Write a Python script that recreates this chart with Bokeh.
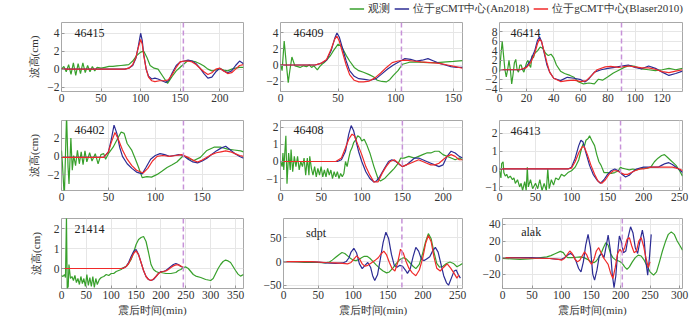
from bokeh.plotting import figure
from bokeh.models import Range1d, Span, Label, Legend, LegendItem
from bokeh.layouts import row, column
from bokeh.embed import file_html
from bokeh.resources import INLINE

# ---------------- data ----------------
stations = ["46415", "46409", "46414", "46402", "46408", "46413", "21414", "sdpt", "alak"]
legend_labels = ["观测", "位于gCMT中心(An2018)", "位于gCMT中心(Blaser2010)"]
x_title = "震后时间(min)"
y_title = "波高(cm)"

x_ticks = [[0, 50, 100, 150, 200], [0, 50, 100, 150], [0, 20, 40, 60, 80, 100, 120],
           [0, 50, 100, 150], [0, 50, 100, 150, 200], [0, 50, 100, 150, 200, 250],
           [0, 50, 100, 150, 200, 250, 300, 350], [0, 50, 100, 150, 200, 250],
           [0, 50, 100, 150, 200, 250, 300]]
y_ticks = [[-2, 0, 2, 4], [-2, 0, 2, 4], [-4, -2, 0, 2, 4, 6, 8], [-2, 0, 2], [-1, 0, 1, 2],
           [-1, 0, 1, 2], [0, 1, 2], [-50, 0, 50], [-20, 0, 20, 40]]
arrival = [154, 105, 90, 130, 150, 168, 245, 170, 203]

# observed (green)
obs_46415 = [(0,0),(3,0.3),(6,-0.3),(9,0.5),(12,-0.6),(15,0.7),(18,-0.7),(21,0.6),(24,-0.5),(27,0.7),
             (30,-0.4),(33,0.4),(36,-0.3),(39,0.3),(42,-0.2),(45,0.2),(50,0.1),(55,0.2),(60,0.3),(65,0.3),
             (70,0.35),(75,0.4),(80,0.45),(85,0.5),(90,0.9),(95,1.5),(100,1.9),(104,2.0),(108,1.3),(112,0.4),
             (117,0.1),(122,0.0),(128,-0.8),(134,-1.6),(140,-0.8),(145,-0.2),(150,0.2),(155,0.6),(160,0.95),
             (165,0.9),(170,0.8),(175,0.6),(180,0.35),(185,0.0),(190,-0.2),(195,-0.1),(200,0.05),(205,-0.1),
             (210,-0.2),(215,0.0),(220,0.1),(225,0.2),(230,0.2)]
obs_46409 = [(0,0.1),(1.4,-0.7),(3.2,3.0),(5,0.2),(6.7,-2.2),(8.3,-0.5),(9.9,1.0),(12.5,-0.1),(15,-0.2),
             (17,-0.3),(20,-0.1),(22.6,-0.2),(25,0.0),(27,-0.3),(29,-0.1),(32,-0.6),(34,-0.2),(36,0.1),
             (38,0.3),(40,0.6),(43,1.1),(46,1.8),(48,2.2),(50,2.6),(53,2.3),(57,1.2),(60,0.5),(64,-0.3),
             (68,-0.7),(72,-0.9),(77,-1.2),(81,-1.5),(84,-1.9),(88,-2.05),(92,-2.1),(95,-1.8),(98,-1.3),
             (102,-0.7),(106,0.1),(112,0.35),(120,0.35),(128,0.3),(136,0.3),(144,0.4),(150,0.45),(158,0.55)]
obs_46414 = [(0,-0.5),(1,3),(2,6),(3,3),(4,0),(5,-1.5),(6,0),(7,2),(8,0),(9,-3),(10,-1),(11,1.5),(12,2.2),
             (13,0),(14,-0.5),(15,1),(16,1),(17,0),(18,-0.5),(19,0.5),(20,1.5),(21,2),(22,1),(23,0.5),(24,3),
             (25,2.5),(26,3.5),(28,4),(30,4.8),(32,4.5),(34,3.5),(36,3),(38,3.3),(40,2.5),(42,1.0),(45,-0.3),
             (48,-0.8),(52,-1.2),(55,-1.6),(58,-2.5),(62,-3.0),(66,-2.8),(70,-3.0),(73,-2.0),(76,-2.2),
             (80,-1.5),(84,-0.7),(88,-0.1),(92,0.5),(96,0.9),(100,0.7),(105,0.2),(110,0.0),(115,-0.2),
             (120,0.0),(125,0.3),(130,0.0),(135,0.3)]
obs_46402 = [(0,0.65),(1,-0.8),(3,-4.5),(5.4,4.5),(7,-1.2),(8,-3.0),(10,2.0),(11.5,-1.5),(13,0.1),(15,-1.0),
             (17,0.65),(19,-0.8),(21,0.5),(23,-0.9),(25,0.6),(27,-0.6),(30,0.4),(32.5,-0.5),(36,0.3),(39,-0.8),
             (42,0.2),(45,0.3),(47,-0.3),(50,0.3),(55,1.0),(60.7,2.1),(63.6,2.65),(66.8,2.5),(70,1.4),(75,0.65),
             (78.6,-0.25),(82,-1.15),(86,-2.3),(91,-2.2),(96,-2.25),(102,-1.95),(107,-1.6),(112.5,-1.2),
             (118,-0.9),(123,-0.6),(130,0.1),(136,-0.25),(141,-0.45),(148,-0.1),(155,0.65),(162.5,1.0),
             (170,1.0),(177,0.8),(184,0.7),(191,0.6),(194,0.5)]
obs_46408 = [(0,0),(2,-0.3),(3,0.5),(4,-0.5),(6.6,1.5),(8,-1.3),(10,0.5),(12,-0.5),(13,0.7),(15,-0.6),(17,0.3),
             (19,-0.3),(21,0.3),(23,-0.5),(25,0.0),(27,-0.3),(29,0.2),(31,-0.8),(33,0.2),(35,-0.8),(36,0.3),
             (38,-0.4),(40,-0.8),(42,-0.3),(44,-0.9),(46,-0.4),(48,-0.8),(50,-0.3),(52,-0.9),(54,-0.5),
             (56,-0.9),(58,-0.4),(60,-0.8),(62,-0.5),(64,-1.0),(66,-0.6),(68,-0.9),(70,-0.6),(72,-1.0),
             (74,-0.7),(76,-0.9),(78,-0.7),(80,0.0),(82,-0.3),(84,0.2),(86,0.6),(88,0.8),(90,1.1),(93,1.3),
             (95,1.5),(98,1.4),(100,1.2),(103,1.3),(106,1.0),(110,0.5),(115,-0.3),(120,-1.0),(123,-1.15),
             (128,-1.0),(132,-0.8),(136,-0.6),(140,-0.4),(145,-0.1),(148,0.2),(152,0.2),(158,0.3),(165,0.2),
             (170,0.3),(175,0.4),(180,0.5),(185,0.5),(190,0.6),(195,0.6),(200,0.4),(205,0.3),(210,0.2),
             (215,0.1),(220,0.2),(224,0.1)]
obs_46413 = [(0,-0.1),(2,-0.5),(3,0.3),(5,0.4),(6,-0.2),(8,-0.4),(10,-0.3),(12,-0.5),(15,-0.4),(18,-0.6),
             (20,-0.5),(22,-0.8),(25,-0.6),(28,-1.0),(30,-0.8),(32,-1.2),(35,-0.7),(37,-1.2),(38.6,0.1),
             (40,-1.0),(43,-0.6),(46,-1.1),(50,-0.8),(53,-1.1),(56,-0.6),(59,-1.2),(62,-0.8),(65,-1.2),
             (67,0.0),(69,-1.1),(72,-0.6),(75,-0.9),(78,-0.5),(82,-0.6),(86,-0.3),(90,-0.4),(95,-0.2),
             (100,-0.1),(105,0.1),(110,0.5),(113,1.0),(116,1.4),(118,1.3),(120,1.6),(123,1.7),(125,1.85),
             (128,1.6),(132,1.3),(135,0.8),(138,0.4),(141,0.2),(145,-0.2),(150,-0.2),(155,-0.25),(160,-0.2),
             (165,-0.1),(168,0.1),(170,0.05),(175,0.0),(180,-0.05),(185,0.0),(190,-0.05),(195,0.0),(200,0.05),
             (205,0.05),(210,0.1),(215,0.4),(220,0.6),(225,0.75),(229,0.8),(233,0.65),(237,0.5),(241,0.35),
             (245,0.2),(250,-0.1),(254,-0.4)]
obs_21414 = [(0,-0.35),(3,-0.4),(6,-0.3),(8,-0.45),(10,2.6),(11.5,-1.0),(13.5,-0.9),(15,0.2),(18,-0.5),
             (21,-0.4),(24,-0.6),(27,-0.35),(30,-0.7),(33,-0.5),(36,-0.8),(39,-0.4),(42,-0.75),(45,-0.5),
             (48,-0.9),(51,-0.3),(54,-0.85),(57,-0.45),(60,-0.9),(63,-0.4),(66,-0.95),(69,-0.5),(72,-0.8),
             (76,-0.55),(80,-0.45),(85,-0.4),(90,-0.3),(95,-0.35),(100,-0.25),(105,-0.25),(110,-0.15),
             (115,-0.1),(120,-0.05),(125,0.05),(130,0.1),(135,0.25),(140,0.45),(145,0.8),(150,1.2),(155,1.45),
             (160,1.55),(165,1.6),(170,1.35),(175,0.8),(180,0.2),(185,-0.05),(190,-0.15),(195,-0.2),(200,-0.2),
             (210,-0.25),(220,-0.25),(230,-0.2),(235,-0.1),(240,-0.05),(245,0.05),(250,0.08),(255,0.0),
             (260,-0.15),(265,-0.3),(270,-0.38),(280,-0.45),(290,-0.55),(300,-0.6),(305,-0.5),(310,-0.25),
             (315,0.0),(320,0.2),(325,0.35),(330,0.42),(335,0.38),(340,0.3),(345,0.1),(350,-0.1),(355,-0.28),
             (360,-0.38),(366,-0.3)]
obs_sdpt = [(0,0),(10,0),(20,-1),(30,-2),(40,-2),(50,-2),(60,-3),(66,-1),(70,3),(75,9),(80,15),(84,19),
            (88,17),(92,12),(96,7),(100,3),(104,2),(108,4),(112,8),(116,11),(120,11),(124,7),(128,1),(133,-7),
            (138,-14),(143,-20),(148,-24),(152,-22),(157,-14),(162,-4),(167,4),(172,8),(176,6),(181,-2),
            (186,-10),(190,-15),(195,-6),(200,18),(204,42),(208,59),(212,48),(216,20),(220,-4),(224,-12),
            (229,-10),(234,-4),(239,-1),(244,-4),(249,-11),(253,-8),(257,-4)]
obs_alak = [(0,-1),(15,-1.5),(30,-2),(45,-1.5),(55,-1),(65,0),(75,1),(82,2.5),(90,5),(98,7.5),(103,6),
            (107,2),(111,0),(118,0),(125,0.5),(132,1),(138,0),(144,-2),(150,-5),(155,-6),(159,-4),(163,0),
            (167,5),(171,12),(175,18),(179,15),(183,5),(187,0),(192,-3),(197,-4),(202,-6),(207,-11),(211,-14),
            (215,-11),(220,-5),(225,0),(230,3),(235,2),(240,-3),(245,-10),(250,-17),(256,-21),(261,-17),
            (266,-5),(271,8),(276,19),(281,28),(286,31),(291,28),(296,20),(301,14),(305,9)]

# model An2018 (blue)
an_46415 = [(0,0),(80,0),(85,0.1),(90,0.4),(94,1.2),(97,2.5),(100,4.0),(102,3.2),(104,1.6),(107,0.0),
            (110,-0.8),(114,-1.1),(118,-1.0),(122,-1.1),(127,-1.3),(132,-1.5),(136,-1.2),(140,-0.4),
            (145,0.4),(150,0.8),(155,0.9),(160,1.0),(165,0.9),(170,0.6),(175,0.1),(180,-0.5),(185,-1.0),
            (190,-0.9),(195,-0.3),(200,0.1),(205,-0.2),(210,-0.4),(215,-0.2),(220,0.4),(225,0.9),(230,0.6)]
an_46409 = [(0,0),(30,0),(35,0.2),(40,0.6),(44,1.8),(47,3.3),(49,4.0),(51,3.5),(54,2.0),(57,0.5),(60,-0.7),
            (64,-1.4),(68,-1.7),(73,-1.8),(78,-1.9),(83,-1.7),(88,-1.1),(93,-0.5),(98,0.0),(103,0.4),
            (108,0.8),(113,0.7),(118,0.5),(123,0.6),(128,0.8),(133,0.5),(138,0.2),(143,0.0),(148,-0.2),
            (153,-0.3),(158,-0.3)]
an_46414 = [(0,0),(15,0),(18,0.2),(20,0.7),(23,2),(26,4),(28,6.2),(29.5,7),(31,6),(33,3.5),(35,1),(37,-0.5),
            (40,-1.8),(45,-2.3),(50,-1.6),(55,-1.8),(60,-2.1),(63,-2.6),(66,-1.9),(70,-0.5),(75,0),(80,0.3),
            (85,0.5),(90,0.8),(95,1.0),(100,0.5),(105,0.2),(110,0.8),(115,0.3),(120,-0.5),(125,-1.2),
            (130,-0.8),(135,-0.3)]
an_46402 = [(0,-0.1),(45,-0.1),(50,0.5),(53,1.8),(56,3.4),(59,2.5),(62,1.0),(65,0),(70,-0.8),(75,-1.3),
            (80,-1.7),(86,-1.9),(90,-1.2),(95,-0.3),(100,0.1),(105,0.3),(110,0.2),(115,0.0),(120,0.1),
            (125,0.2),(130,0.1),(135,-0.3),(140,-0.6),(145,-0.7),(150,-0.5),(155,-0.2),(160,0.2),(165,0.6),
            (170,0.9),(175,1.1),(180,0.7),(185,0.3),(190,0.0),(194,-0.2)]
an_46408 = [(0,0),(70,0),(75,0.1),(80,0.6),(84,1.6),(87,2.1),(90,1.8),(93,1.2),(96,0.6),(100,0.0),(105,-0.6),
            (110,-1.0),(115,-1.2),(118,-1.15),(122,-0.9),(128,-0.4),(133,0.0),(137,0.1),(142,0.0),(147,-0.2),
            (150,-0.3),(155,-0.2),(160,0.0),(165,0.2),(170,0.2),(175,0.1),(180,0.0),(185,-0.1),(190,-0.2),
            (195,-0.3),(200,-0.2),(205,0.3),(210,0.6),(215,0.5),(220,0.3),(224,0.2)]
an_46413 = [(0,0),(95,0),(100,0.1),(105,0.6),(110,1.3),(113,1.6),(116,1.5),(120,0.9),(125,0.2),(130,-0.3),
            (135,-0.6),(140,-0.8),(145,-0.6),(150,-0.3),(155,-0.1),(160,0.0),(165,-0.1),(170,-0.3),
            (175,-0.45),(180,-0.35),(185,-0.15),(190,0.0),(195,0.05),(200,0.1),(210,0.1),(220,0.1),(225,0.2),
            (230,0.3),(235,0.35),(240,0.25),(245,0.1),(250,-0.05),(254,-0.2)]
an_21414 = [(0,0),(120,0),(125,0.02),(130,0.1),(135,0.3),(140,0.6),(145,0.85),(150,0.95),(155,0.7),(160,0.3),
            (165,-0.1),(170,-0.4),(175,-0.55),(180,-0.6),(185,-0.55),(190,-0.4),(195,-0.25),(200,-0.15),
            (205,-0.15),(210,-0.1),(215,0.0),(220,0.1),(225,0.2),(230,0.25),(235,0.2),(240,0.1),(245,0.05)]
an_sdpt = [(0,0),(30,0),(50,-1),(60,-3),(75,-4),(85,-3),(90,0),(94,8),(97,20),(101,28),(105,18),(109,-5),
           (113,-15),(117,-8),(121,-2),(125,-12),(128,-30),(131,-40),(135,-28),(139,5),(143,40),(147,62),
           (151,48),(155,15),(159,-8),(163,-12),(167,-8),(171,-10),(175,-18),(178,-25),(182,-15),(186,10),
           (190,30),(194,22),(198,5),(202,2),(206,6),(210,10),(214,22),(218,30),(222,20),(226,-5),(230,-30),
           (234,-45),(237,-50),(241,-35),(245,-20),(248,-18),(251,-28),(254,-35)]
an_alak = [(0,0),(50,0),(80,-1),(95,-2),(100,-2),(105,0),(110,3),(115,5),(120,3),(125,-5),(129,-13),
           (133,-17),(137,-5),(141,15),(145,28),(149,12),(153,-20),(156,-27),(160,-15),(164,2),(168,5),
           (172,0),(176,15),(179,27),(183,8),(186,-20),(189,-36),(192,-22),(195,5),(198,26),(201,20),(205,6),
           (209,8),(213,25),(217,37),(221,30),(225,12),(229,5),(233,20),(237,33),(240,22),(243,-5),(246,-21),
           (249,0),(252,28)]

# model Blaser2010 (red)
bl_46415 = [(0,0),(80,0),(85,0.1),(90,0.5),(94,1.3),(97,2.4),(100,3.3),(102,2.8),(104,1.5),(107,0.0),
            (110,-0.9),(114,-1.3),(118,-1.4),(124,-1.3),(130,-1.3),(135,-1.2),(140,-0.6),(145,0.2),(150,0.8),
            (155,0.9),(160,0.9),(165,0.8),(170,0.5),(175,0.1),(180,-0.3),(185,-0.6),(190,-0.4),(195,0.0),
            (200,0.1),(205,-0.2),(210,-0.5),(215,-0.4),(220,0.0),(225,0.4),(230,0.5)]
bl_46409 = [(0,0),(30,0),(35,0.2),(40,0.7),(44,2.0),(47,3.2),(49,3.6),(51,3.0),(54,1.5),(57,0.0),(60,-1.2),
            (64,-1.9),(68,-2.1),(72,-2.1),(77,-2.0),(82,-1.6),(87,-1.0),(92,-0.3),(97,0.3),(102,0.5),
            (108,0.6),(115,0.5),(122,0.4),(130,0.3),(138,0.2),(145,0.0),(152,-0.2),(158,-0.4)]
bl_46414 = [(0,0),(15,0),(20,0.5),(23,1.5),(26,3.5),(28,5.5),(29.5,6.5),(31,6),(33,3.8),(35,1.5),(37,-0.5),
            (40,-1.8),(45,-2.5),(50,-2.3),(55,-2.2),(60,-2.5),(64,-2.3),(68,-1.2),(72,0),(78,0.6),(82,0.7),
            (88,0.5),(95,0.8),(100,0.6),(105,0.4),(110,0.4),(115,0.1),(120,-0.4),(125,-0.6),(130,-0.3),(135,0)]
bl_46402 = [(0,-0.1),(45,-0.1),(50,0.5),(53,1.5),(57,2.6),(60,2.0),(65,0.7),(70,-0.3),(75,-1.0),(80,-1.5),
            (87,-1.8),(92,-1.3),(97,-0.5),(102,0.0),(108,0.1),(115,0.0),(122,0.1),(128,0.2),(135,-0.1),
            (140,-0.4),(145,-0.6),(150,-0.4),(155,-0.1),(160,0.2),(165,0.4),(170,0.5),(175,0.6),(180,0.5),
            (185,0.3),(190,0.1),(194,0.0)]
bl_46408 = [(0,0),(68,0),(75,0.2),(80,0.8),(84,1.3),(88,1.6),(91,1.5),(95,1.0),(100,0.4),(105,-0.3),
            (110,-0.8),(115,-1.2),(120,-1.2),(125,-0.7),(130,-0.3),(135,0.0),(140,0.1),(145,-0.1),(150,-0.3),
            (155,-0.2),(160,-0.1),(165,0.0),(170,0.1),(175,0.0),(180,-0.1),(185,-0.2),(190,-0.2),(195,-0.1),
            (200,0.1),(205,0.3),(210,0.4),(215,0.3),(220,0.1),(224,0.1)]
bl_46413 = [(0,0),(95,0),(100,0.05),(105,0.4),(110,0.9),(115,1.25),(118,1.2),(122,0.8),(127,0.2),(132,-0.3),
            (137,-0.7),(142,-0.8),(147,-0.6),(152,-0.3),(158,-0.1),(163,-0.1),(168,-0.2),(173,-0.3),
            (178,-0.3),(183,-0.2),(188,-0.1),(195,0.0),(200,0.0),(210,0.1),(220,0.1),(230,0.1),(240,0.1),
            (250,0.0),(254,-0.1)]
bl_21414 = [(0,0),(120,0),(125,0.02),(130,0.1),(135,0.25),(140,0.5),(145,0.75),(150,0.88),(155,0.68),
            (160,0.3),(165,-0.1),(170,-0.4),(175,-0.55),(180,-0.6),(185,-0.52),(190,-0.4),(195,-0.25),
            (200,-0.17),(205,-0.15),(210,-0.12),(215,-0.05),(220,0.05),(225,0.13),(230,0.18),(235,0.18),
            (240,0.12),(245,0.05)]
bl_sdpt = [(0,0),(40,0),(60,-2),(75,-3),(85,-4),(92,-5),(97,-2),(101,5),(105,12),(109,6),(113,-5),(117,-10),
           (121,-8),(126,-3),(131,2),(136,8),(140,16),(144,22),(148,14),(152,-2),(156,-15),(160,-20),(164,-2),
           (168,26),(172,18),(176,0),(180,-14),(185,-24),(190,-30),(195,-18),(200,8),(204,38),(208,55),
           (212,42),(216,10),(220,-14),(225,-20),(230,-12),(235,-5),(240,-14),(245,-25),(249,-35),(252,-28)]
bl_alak = [(0,0),(80,-1),(95,-2),(100,-3),(105,-1),(110,4),(114,8),(118,5),(122,-1),(127,-5),(131,-3),
           (135,2),(139,7),(143,3),(147,-4),(151,-8),(155,-2),(159,8),(163,12),(167,6),(171,0),(175,-4),
           (179,-8),(183,-18),(187,-25),(191,-12),(195,5),(199,10),(203,6),(207,12),(211,22),(215,24),
           (219,14),(223,6),(227,8),(231,20),(235,24),(239,14),(243,0),(247,-12),(250,-5)]

observed = [obs_46415, obs_46409, obs_46414, obs_46402, obs_46408, obs_46413, obs_21414, obs_sdpt, obs_alak]
model_an = [an_46415, an_46409, an_46414, an_46402, an_46408, an_46413, an_21414, an_sdpt, an_alak]
model_bl = [bl_46415, bl_46409, bl_46414, bl_46402, bl_46408, bl_46413, bl_21414, bl_sdpt, bl_alak]

# ---------------- layout / style ----------------
x_end = [230, 158, 135, 194, 224, 254, 366, 257, 305]
y_lims = [(-2.5, 5.2), (-3.3, 5.3), (-4.6, 10), (-3.7, 3.9), (-1.7, 2.4), (-1.2, 2.7),
          (-1.0, 2.5), (-57, 91), (-37, 47)]
label_dx = [13, 13, 11, 13, 13, 11, 13, 23, 19]
label_dy = [10, 10, 10, 9, 9, 10, 10, 14, 13]

GREEN = "#38a02c"
BLUE = "#2c2c94"
RED = "#f02a2a"
DASH = "#c792d8"
FONT = "Liberation Serif"
TXT = "#333333"

col_w = [260, 219, 221]
col_b = [(61, 17), (20, 17), (20, 18)]
row_h = [91, 99, 113]
row_b = [(6, 16), (13, 16), (12, 31)]


def fmt(t):
    return ("\u2212" + str(abs(t))) if t < 0 else str(t)


def xs_of(data):
    return [d[0] for d in data]


def ys_of(data):
    return [d[1] for d in data]


figs = []
for i in range(9):
    r, c = divmod(i, 3)
    fw = col_w[c] - col_b[c][0] - col_b[c][1]
    fh = row_h[r] - row_b[r][0] - row_b[r][1]
    y0, y1 = y_lims[i]
    p = figure(width=col_w[c], height=row_h[r], x_range=Range1d(0, x_end[i]), y_range=Range1d(y0, y1),
               output_backend="svg", toolbar_location=None,
               min_border_left=col_b[c][0], min_border_right=col_b[c][1],
               min_border_top=row_b[r][0], min_border_bottom=row_b[r][1])
    p.outline_line_color = "#a8a8a8"
    p.outline_line_width = 1
    p.xaxis.ticker = x_ticks[i]
    p.yaxis.ticker = y_ticks[i]
    p.xaxis.major_label_overrides = {t: fmt(t) for t in x_ticks[i]}
    p.yaxis.major_label_overrides = {t: fmt(t) for t in y_ticks[i]}
    for ax in (p.xaxis[0], p.yaxis[0]):
        ax.major_label_text_font = FONT
        ax.major_label_text_font_size = "11.5px"
        ax.major_label_text_color = TXT
        ax.axis_line_color = None
        ax.major_tick_in = 3
        ax.major_tick_out = 0
        ax.major_tick_line_color = "#999999"
        ax.minor_tick_line_color = None
        ax.major_label_standoff = 2
        ax.axis_label_text_font = FONT
        ax.axis_label_text_font_size = "11px"
        ax.axis_label_text_font_style = "normal"
        ax.axis_label_text_color = TXT
    p.grid.grid_line_color = "#e6e6e6"
    p.grid.grid_line_width = 1

    if c == 0:
        p.yaxis.axis_label = y_title
        p.yaxis.axis_label_standoff = 9 if r == 2 else 4
    if r == 2:
        p.xaxis.axis_label = x_title
        p.xaxis.axis_label_standoff = 2

    for data, col in ((observed[i], GREEN), (model_an[i], BLUE), (model_bl[i], RED)):
        p.line(xs_of(data), ys_of(data), line_color=col, line_width=1.2)

    p.add_layout(Span(location=arrival[i], dimension="height", line_color=DASH,
                      line_width=1.5, line_dash="5 3"))

    lx = x_end[i] * label_dx[i] / fw
    ly = y1 - (y1 - y0) * label_dy[i] / fh
    p.add_layout(Label(x=lx, y=ly, text=stations[i], text_font=FONT, text_font_size="12px",
                       text_color="#222222", text_align="left", text_baseline="middle"))
    figs.append(p)

# legend strip (its renderers hold panel-1 data, which lies outside this strip's ranges)
lf = figure(width=700, height=16, x_range=Range1d(-2, -1), y_range=Range1d(-2, -1),
            output_backend="svg", toolbar_location=None, min_border=0,
            x_axis_location=None, y_axis_location=None)
lf.outline_line_color = None
lf.grid.visible = False
rg = lf.line(xs_of(obs_46415), ys_of(obs_46415), line_color=GREEN, line_width=1.3)
rb = lf.line(xs_of(an_46415), ys_of(an_46415), line_color=BLUE, line_width=1.3)
rr = lf.line(xs_of(bl_46415), ys_of(bl_46415), line_color=RED, line_width=1.3)
leg = Legend(items=[LegendItem(label=legend_labels[0], renderers=[rg]),
                    LegendItem(label=legend_labels[1], renderers=[rb]),
                    LegendItem(label=legend_labels[2], renderers=[rr])],
             orientation="horizontal", location="center_right")
leg.label_text_font = FONT
leg.label_text_font_size = "11px"
leg.label_text_color = TXT
leg.label_text_baseline = "middle"
leg.glyph_width = 15
leg.glyph_height = 10
leg.label_height = 10
leg.label_standoff = 4
leg.spacing = 4
leg.padding = 0
leg.margin = 17
leg.border_line_color = None
leg.background_fill_alpha = 0
lf.add_layout(leg)

layout = column(lf, row(*figs[0:3]), row(*figs[3:6]), row(*figs[6:9]))
open("out.html", "w").write(file_html(layout, INLINE))
